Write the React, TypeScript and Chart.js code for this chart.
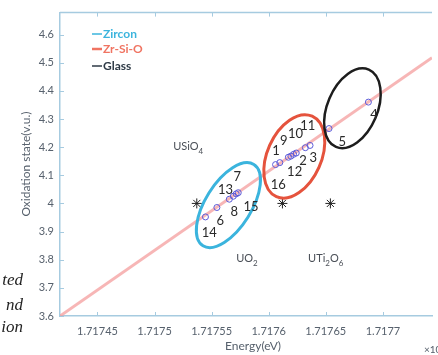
import React, { useEffect, useRef } from "react";
import { Chart, registerables } from "chart.js";

Chart.register(...registerables);

// ---- data ----
const xTickValues = [1.71745, 1.7175, 1.71755, 1.7176, 1.71765, 1.7177];
const yTickValues = [3.6, 3.7, 3.8, 3.9, 4.0, 4.1, 4.2, 4.3, 4.4, 4.5, 4.6];

const zirconX = [1.7175446, 1.7175546, 1.7175655, 1.717569, 1.7175715, 1.7175733];
const zirconY = [3.952, 3.9855, 4.015, 4.0255, 4.034, 4.038];
const zirconLabels = ["14", "6", "8", "15", "13", "7"];
const zirconLabelX = [1.717548, 1.7175575, 1.7175698, 1.7175845, 1.7175621, 1.7175724];
const zirconLabelY = [3.895, 3.938, 3.969, 3.9865, 4.047, 4.093];

const zrsioX = [1.717606, 1.7176097, 1.7176172, 1.7176194, 1.7176218, 1.7176241, 1.7176321, 1.7176362];
const zrsioY = [4.138, 4.145, 4.164, 4.168, 4.1745, 4.179, 4.198, 4.206];
const zrsioLabels = ["16", "1", "12", "9", "2", "10", "3", "11"];
const zrsioLabelX = [1.7176084, 1.7176063, 1.7176227, 1.7176132, 1.71763, 1.7176235, 1.717639, 1.7176342];
const zrsioLabelY = [4.0645, 4.186, 4.112, 4.224, 4.15, 4.248, 4.163, 4.277];

const glassX = [1.7176528, 1.7176873];
const glassY = [4.266, 4.36];
const glassLabels = ["5", "4"];
const glassLabelX = [1.7176644, 1.7176922];
const glassLabelY = [4.218, 4.316];

const refX = [1.717537, 1.717612, 1.717654];
const refY = [4.0, 4.0, 4.0];
const refNames = [
  ["USiO", "4", ""],
  ["UO", "2", ""],
  ["UTi", "2", "O", "6"],
];
const refNameX = [1.7175164, 1.7175715, 1.7176345];
const refNameY = [4.203, 3.806, 3.806];

const fitX = [1.7174172, 1.717743];
const fitY = [3.6, 4.518];

const ellipseCenterX = [1.7175647, 1.7176224, 1.7176733];
const ellipseCenterY = [3.994, 4.167, 4.338];

const legendNames = ["Zircon", "Zr-Si-O", "Glass"];
const captionFragments = ["ted", "nd", "ion"];

const X_MIN = 1.7174172;
const X_MAX = 1.717743;
const Y_MIN = 3.6;
const Y_MAX = 4.678;

// ---- styles ----
const AXIS = "#a6cbe0";
const TICK_TEXT = "#57616d";
const CYAN = "#3bb4dd";
const RED = "#e5533d";
const BLACK = "#1d1d1d";
const POINT = "#5a5ad8";
const FONT = "Lato, 'Open Sans', sans-serif";

const ellipseStyle = [
  { rx: 48, ry: 23, rot: -58, color: CYAN, width: 3 },
  { rx: 44, ry: 27, rot: -66, color: RED, width: 3 },
  { rx: 42, ry: 25, rot: -67, color: BLACK, width: 2.5 },
];
const legendColors = [CYAN, "#f07462", "#2e3a46"];
const legendLineColors = [CYAN, "#f07462", "#2e3a46"];

const overlay = {
  id: "overlay",
  afterDatasetsDraw(chart: any) {
    const { ctx, chartArea } = chart;
    const xs = chart.scales.x;
    const ys = chart.scales.y;
    ctx.save();
    ctx.beginPath();
    ctx.rect(chartArea.left, chartArea.top, chartArea.right - chartArea.left, chartArea.bottom - chartArea.top);
    ctx.clip();
    // ellipses
    ellipseCenterX.forEach((cx, i) => {
      const s = ellipseStyle[i];
      ctx.beginPath();
      ctx.ellipse(xs.getPixelForValue(cx), ys.getPixelForValue(ellipseCenterY[i]), s.rx, s.ry, (s.rot * Math.PI) / 180, 0, Math.PI * 2);
      ctx.strokeStyle = s.color;
      ctx.lineWidth = s.width;
      ctx.stroke();
    });
    // number labels
    ctx.fillStyle = "#2a2a2a";
    ctx.font = `13px ${FONT}`;
    ctx.textAlign = "center";
    ctx.textBaseline = "middle";
    const drawLabels = (labels: string[], lx: number[], ly: number[]) => {
      labels.forEach((t, i) => ctx.fillText(t, xs.getPixelForValue(lx[i]), ys.getPixelForValue(ly[i])));
    };
    drawLabels(zirconLabels, zirconLabelX, zirconLabelY);
    drawLabels(zrsioLabels, zrsioLabelX, zrsioLabelY);
    drawLabels(glassLabels, glassLabelX, glassLabelY);
    // reference compound names with subscripts
    ctx.fillStyle = "#4a4f57";
    ctx.textAlign = "left";
    refNames.forEach((parts, i) => {
      let px = xs.getPixelForValue(refNameX[i]);
      const py = ys.getPixelForValue(refNameY[i]);
      parts.forEach((p, k) => {
        const sub = k % 2 === 1;
        ctx.font = sub ? `8px ${FONT}` : `11px ${FONT}`;
        ctx.fillText(p, px, sub ? py + 5 : py);
        px += ctx.measureText(p).width;
      });
    });
    ctx.restore();
  },
  afterDraw(chart: any) {
    const { ctx, chartArea } = chart;
    const xs = chart.scales.x;
    const ys = chart.scales.y;
    ctx.save();
    // top border
    ctx.strokeStyle = AXIS;
    ctx.lineWidth = 1.5;
    ctx.beginPath();
    ctx.moveTo(chartArea.left, chartArea.top);
    ctx.lineTo(chartArea.right, chartArea.top);
    ctx.stroke();
    // inside ticks
    ctx.lineWidth = 1;
    ctx.beginPath();
    xTickValues.forEach((v) => {
      const px = Math.round(xs.getPixelForValue(v)) + 0.5;
      ctx.moveTo(px, chartArea.bottom);
      ctx.lineTo(px, chartArea.bottom - 4);
      ctx.moveTo(px, chartArea.top);
      ctx.lineTo(px, chartArea.top + 4);
    });
    yTickValues.forEach((v) => {
      const py = Math.round(ys.getPixelForValue(v)) + 0.5;
      ctx.moveTo(chartArea.left, py);
      ctx.lineTo(chartArea.left + 4, py);
    });
    ctx.stroke();
    // legend
    ctx.textAlign = "left";
    ctx.textBaseline = "middle";
    const legendY = [34, 49, 66];
    legendNames.forEach((n, i) => {
      ctx.strokeStyle = legendLineColors[i];
      ctx.lineWidth = i === 1 ? 2.5 : 1.5;
      ctx.beginPath();
      ctx.moveTo(92, legendY[i]);
      ctx.lineTo(102, legendY[i]);
      ctx.stroke();
      ctx.fillStyle = legendColors[i];
      ctx.font = `bold 12px ${FONT}`;
      ctx.fillText(n, 103, legendY[i]);
    });
    // axis titles
    ctx.fillStyle = TICK_TEXT;
    ctx.font = `12px ${FONT}`;
    ctx.textAlign = "center";
    ctx.fillText("Energy(eV)", 253, 346);
    ctx.save();
    ctx.translate(26, 164);
    ctx.rotate(-Math.PI / 2);
    ctx.fillText("Oxidation state(v.u.)", 0, 0);
    ctx.restore();
    // exponent
    ctx.textAlign = "left";
    ctx.font = `10px ${FONT}`;
    ctx.fillText("\u00d710", 424, 350);
    ctx.font = `8px ${FONT}`;
    ctx.fillText("4", 440, 345);
    // caption fragments from the page
    ctx.fillStyle = "#222";
    ctx.font = "italic 17px 'Liberation Serif', serif";
    ctx.textAlign = "right";
    const capY = [281, 306, 328];
    captionFragments.forEach((t, i) => ctx.fillText(t, 23, capY[i]));
    ctx.restore();
  },
};

export default function App() {
  const ref = useRef<HTMLCanvasElement | null>(null);
  useEffect(() => {
    if (!ref.current) return;
    const toPts = (xa: number[], ya: number[]) => xa.map((x, i) => ({ x, y: ya[i] }));
    const chart = new Chart(ref.current, {
      type: "scatter",
      data: {
        datasets: [
          {
            data: toPts(zirconX, zirconY),
            pointStyle: "circle",
            pointRadius: 3,
            borderColor: POINT,
            backgroundColor: "rgba(0,0,0,0)",
            borderWidth: 1,
            order: 1,
          },
          {
            data: toPts(zrsioX, zrsioY),
            pointStyle: "circle",
            pointRadius: 3,
            borderColor: POINT,
            backgroundColor: "rgba(0,0,0,0)",
            borderWidth: 1,
            order: 1,
          },
          {
            data: toPts(glassX, glassY),
            pointStyle: "circle",
            pointRadius: 3,
            borderColor: POINT,
            backgroundColor: "rgba(0,0,0,0)",
            borderWidth: 1,
            order: 1,
          },
          {
            data: toPts(refX, refY),
            pointStyle: "star",
            pointRadius: 5,
            borderColor: "#222",
            backgroundColor: "#222",
            borderWidth: 1,
            order: 1,
          },
          {
            data: toPts(fitX, fitY),
            showLine: true,
            pointRadius: 0,
            borderColor: "rgba(244,158,158,0.75)",
            borderWidth: 3,
            order: 5,
          } as any,
        ],
      },
      options: {
        responsive: false,
        animation: false,
        devicePixelRatio: 1,
        layout: { padding: { top: 12, right: 0, left: 0, bottom: 0 } },
        plugins: { legend: { display: false }, tooltip: { enabled: false } },
        scales: {
          x: {
            type: "linear",
            min: X_MIN,
            max: X_MAX,
            grid: { drawOnChartArea: false, drawTicks: false },
            border: { display: true, color: AXIS, width: 1.5 },
            ticks: {
              padding: 9,
              color: TICK_TEXT,
              font: { size: 11, family: FONT },
              maxRotation: 0,
              autoSkip: false,
              callback: (v: any) => Number(v).toFixed(5).replace(/0+$/, ""),
            },
            afterBuildTicks: (s: any) => {
              s.ticks = xTickValues.map((value) => ({ value }));
            },
            afterFit: (s: any) => {
              s.height = 39;
            },
          },
          y: {
            type: "linear",
            min: Y_MIN,
            max: Y_MAX,
            grid: { drawOnChartArea: false, drawTicks: false },
            border: { display: true, color: AXIS, width: 1.5 },
            ticks: {
              padding: 6,
              color: TICK_TEXT,
              font: { size: 11, family: FONT },
              autoSkip: false,
              callback: (v: any) => String(Number(Number(v).toFixed(1))),
            },
            afterBuildTicks: (s: any) => {
              s.ticks = yTickValues.map((value) => ({ value }));
            },
            afterFit: (s: any) => {
              s.width = 60;
            },
          },
        },
      },
      plugins: [overlay],
    } as any);
    return () => chart.destroy();
  }, []);
  return (
    <div style={{ position: "fixed", left: 0, top: 0, width: 438, height: 355, background: "#fff" }}>
      <canvas ref={ref} width={438} height={355} />
    </div>
  );
}
